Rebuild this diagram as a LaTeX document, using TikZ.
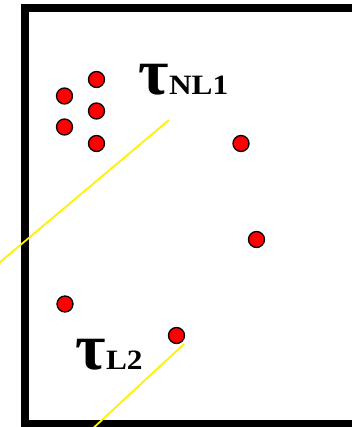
\documentclass[tikz,border=0pt]{standalone}
\usepackage{fontspec}
\setmainfont{Liberation Serif}
\begin{document}
\begin{tikzpicture}[x=1pt,y=-1pt,
  dot/.style={circle,draw=black,fill=red,line width=1.3pt,minimum size=16pt,inner sep=0pt},
  frame/.style={draw=black,line width=8pt},
  ray/.style={draw=yellow,line width=1.8pt},
  taufont/.style={font=\fontsize{66}{66}\selectfont\bfseries,inner sep=0pt,anchor=base west},
  subfont/.style={font=\fontsize{28}{28}\selectfont\bfseries,inner sep=0pt,anchor=base west}]
\useasboundingbox (0,0) rectangle (351,427);
\draw[frame] (25,430) -- (25,8) -- (360,8);
\draw[frame] (21,424) -- (360,424);
% rays
\coordinate (r1a) at (169,120);
\coordinate (r1b) at (-20,279);
\coordinate (r2a) at (184,344);
\coordinate (r2b) at (89,432);
\draw[ray] (r1a) -- (r1b);
\draw[ray] (r2a) -- (r2b);
% dots
\node[dot] (d1) at (96.5,79.5) {};
\node[dot] (d2) at (64.5,96) {};
\node[dot] (d3) at (96.5,111) {};
\node[dot] (d4) at (64.5,127) {};
\node[dot] (d5) at (96.5,143.5) {};
\node[dot] (d6) at (241,143.5) {};
\node[dot] (d7) at (256.5,239.5) {};
\node[dot] (d8) at (65,304) {};
\node[dot] (d9) at (176.5,335.5) {};
% labels
\node[taufont] (t1) at (138,95) {τ};
\node[subfont,xscale=1.12] (s1) at (t1.base east) {NL1};
\node[taufont] (t2) at (75,369) {τ};
\node[subfont,xscale=1.12] (s2) at (t2.base east) {L2};
\end{tikzpicture}
\end{document}
